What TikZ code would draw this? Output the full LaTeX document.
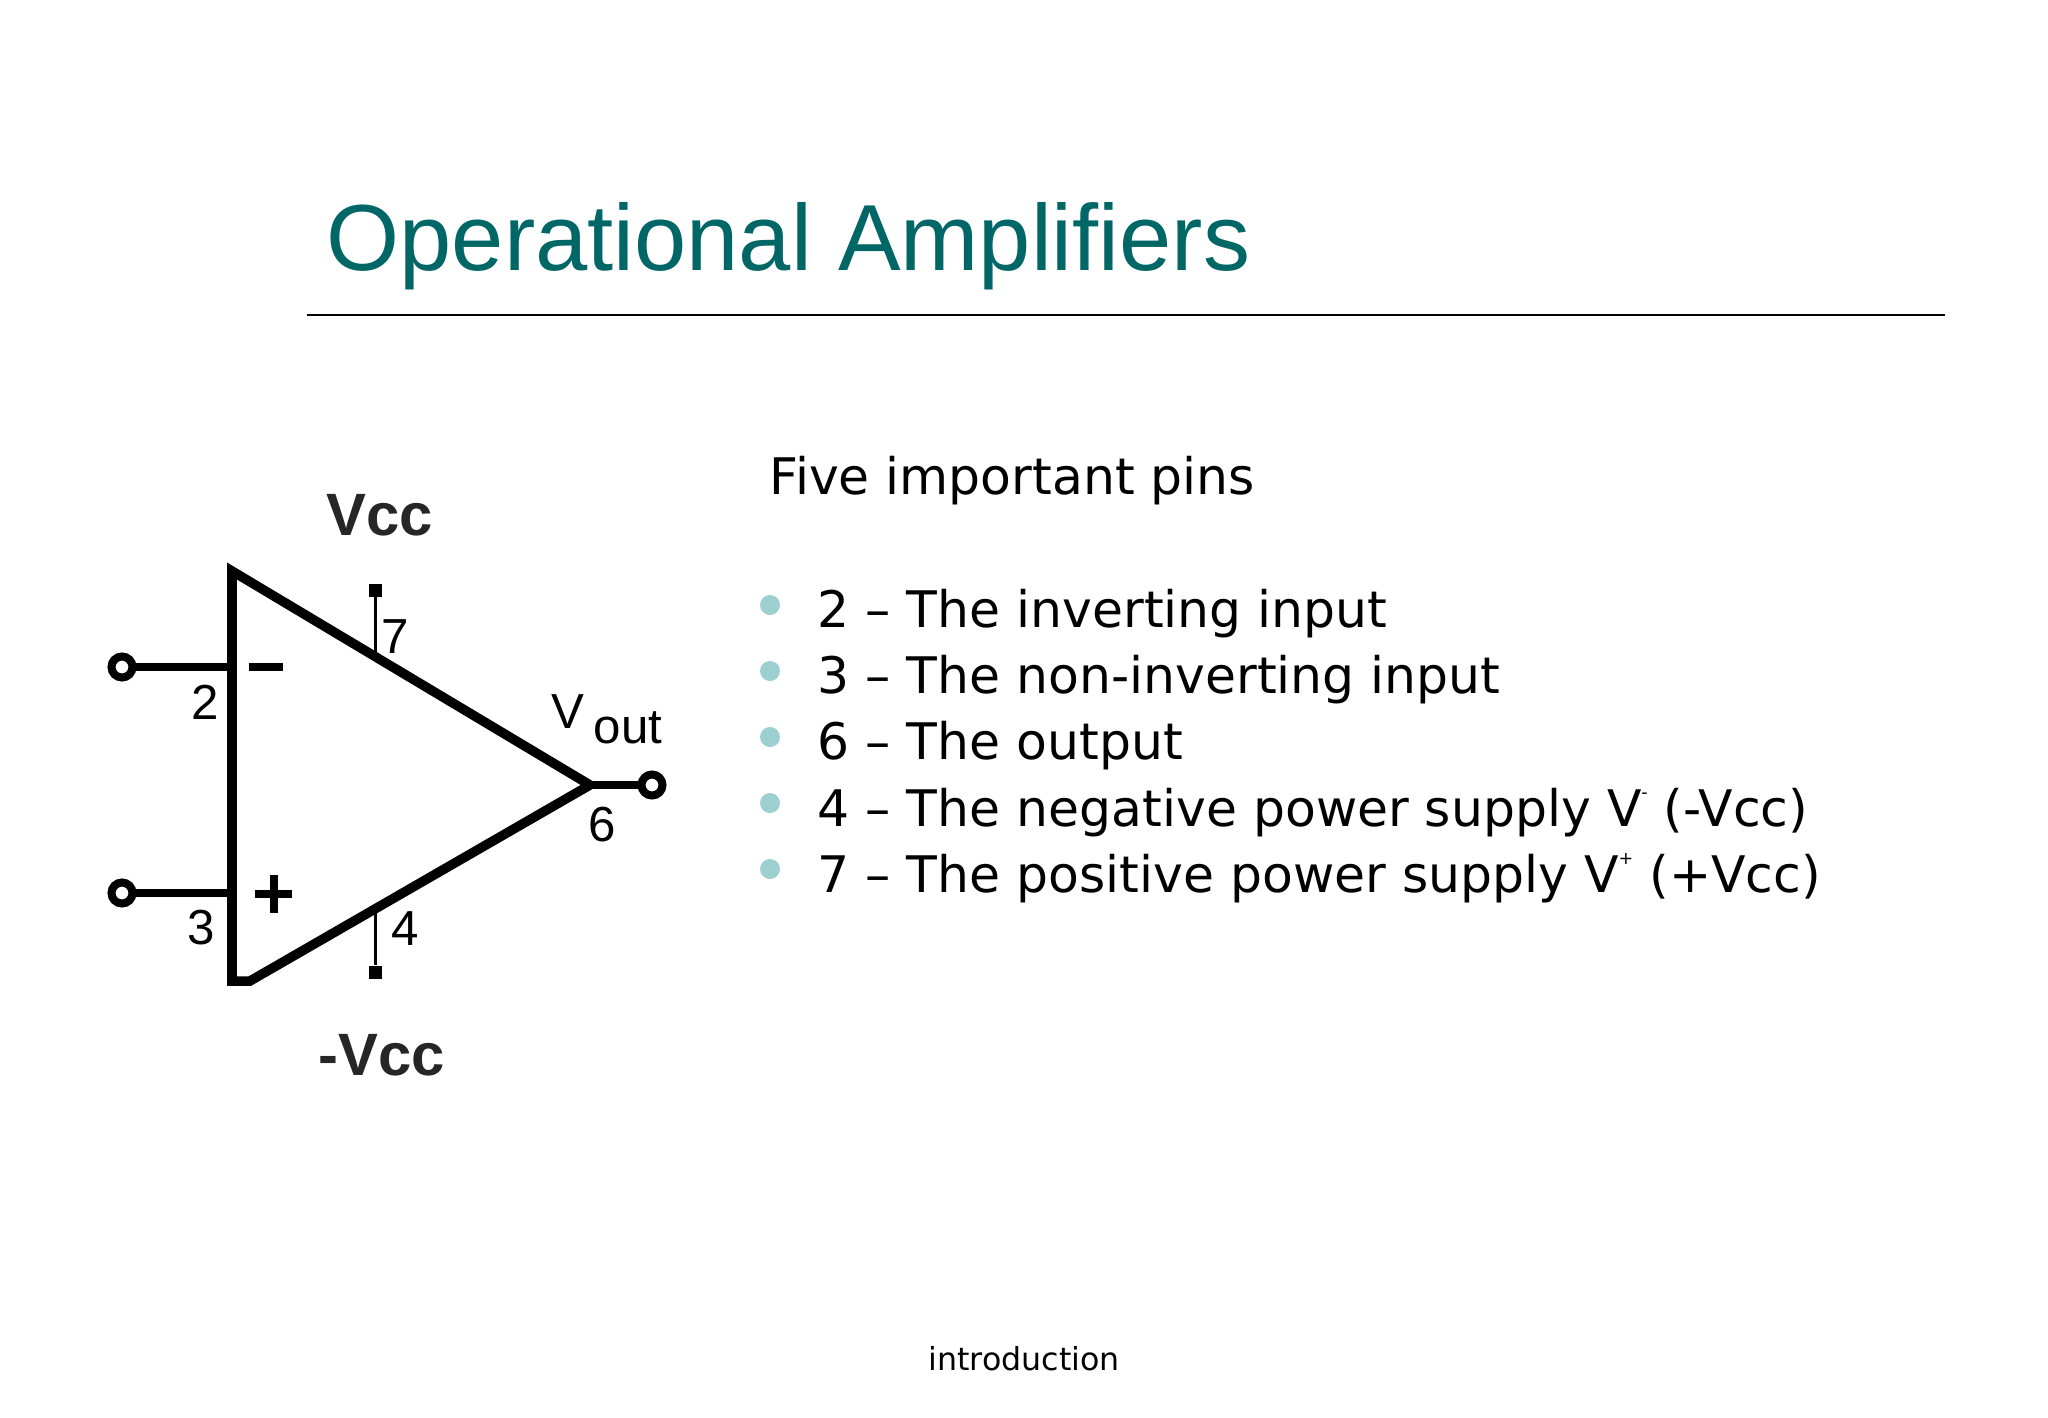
\documentclass[tikz,border=0pt]{standalone}
\usepackage{fontspec}
\setmainfont{Liberation Sans}
\newfontfamily\bodyfont{DejaVu Sans}
\definecolor{titleteal}{HTML}{006666}
\definecolor{bulletteal}{HTML}{9CCFCF}
\tikzset{
	terminal/.style={circle,draw=black,fill=white,line width=.08cm,minimum size=.21cm,inner sep=0pt,outer sep=0pt},
	pinend/.style={rectangle,fill=black,minimum size=.13cm,inner sep=0pt},
	pinlabel/.style={anchor=base west,inner sep=0pt,font=\fontsize{14}{16}\selectfont},
	supplylabel/.style={anchor=base west,inner sep=0pt,font=\fontsize{17}{20}\selectfont\bfseries,text=black!85},
	bodytext/.style={anchor=base west,inner sep=0pt,font=\bodyfont\fontsize{14.33}{17}\selectfont},
	bulletdot/.style={circle,fill=bulletteal,minimum size=.2cm,inner sep=0pt}
}
\newcommand{\smallsup}[1]{\raisebox{.55em}{\fontsize{5}{6}\selectfont #1}}
\begin{document}
\begin{tikzpicture}[x=.01cm,y=-.01cm]
	\useasboundingbox (0,0) rectangle (2048,1418);
	\fill[color=white] (0,0) rectangle (2048,1418);

	\node[anchor=base west,inner sep=0pt,text=titleteal,font=\fontsize{26.7}{30}\selectfont] (title) at (326,270) {Operational Amplifiers};
	\coordinate (ruleleft) at (307,315);
	\coordinate (ruleright) at (1945,315);
	\draw[line width=.028cm] (ruleleft) -- (ruleright);

	\coordinate (topcorner) at (232,571);
	\coordinate (tip) at (590,785);
	\coordinate (lowcorner) at (250,981);
	\coordinate (botcorner) at (232,981);
	\draw[line width=.095cm] (topcorner) -- (tip) -- (lowcorner) -- (botcorner) -- cycle;

	\node[terminal] (inminus) at (122,667) {};
	\node[terminal] (inplus) at (122,893) {};
	\node[terminal] (output) at (652,785) {};
	\coordinate (minusjoin) at (232,667);
	\coordinate (plusjoin) at (232,893);
	\draw[line width=.075cm] (inminus) -- (minusjoin);
	\draw[line width=.075cm] (inplus) -- (plusjoin);
	\draw[line width=.075cm] (tip) -- (output);

	\node[pinend] (pintop) at (375,590) {};
	\node[pinend] (pinbot) at (375,972) {};
	\coordinate (topjoin) at (375,655);
	\coordinate (botjoin) at (375,907);
	\draw[line width=.03cm] (pintop) -- (topjoin);
	\draw[line width=.03cm] (pinbot) -- (botjoin);

	\fill (249,663) rectangle (283,671);
	\fill (255,890) rectangle (292,898);
	\fill (269.5,875) rectangle (277.5,913);

	\node[supplylabel] (vcc) at (326,535) {Vcc};
	\node[supplylabel] (vee) at (318,1075) {-Vcc};
	\node[pinlabel] (pintwo) at (191,719) {2};
	\node[pinlabel] (pinthree) at (187,944) {3};
	\node[pinlabel] (pinseven) at (381,653) {7};
	\node[pinlabel] (pinfour) at (391,945) {4};
	\node[pinlabel] (pinsix) at (588,841) {6};
	\node[pinlabel] (vout) at (551,728) {V};
	\node[pinlabel] (outsub) at (593,743) {out};

	\node[bodytext] (heading) at (769,494) {Five important pins};
	\node[bulletdot] (dota) at (770,605) {};
	\node[bulletdot] (dotb) at (770,671) {};
	\node[bulletdot] (dotc) at (770,737) {};
	\node[bulletdot] (dotd) at (770,803) {};
	\node[bulletdot] (dote) at (770,869) {};
	\node[bodytext] (linea) at (817,627) {2 – The inverting input};
	\node[bodytext] (lineb) at (817,693) {3 – The non-inverting input};
	\node[bodytext] (linec) at (817,759) {6 – The output};
	\node[bodytext] (lined) at (817,826) {4 – The negative power supply V\smallsup{-} (-Vcc)};
	\node[bodytext] (linee) at (817,892) {7 – The positive power supply V\smallsup{+} (+Vcc)};

	\node[anchor=base,inner sep=0pt,font=\bodyfont\fontsize{9}{11}\selectfont] (footer) at (1024,1370) {introduction};
\end{tikzpicture}
\end{document}
